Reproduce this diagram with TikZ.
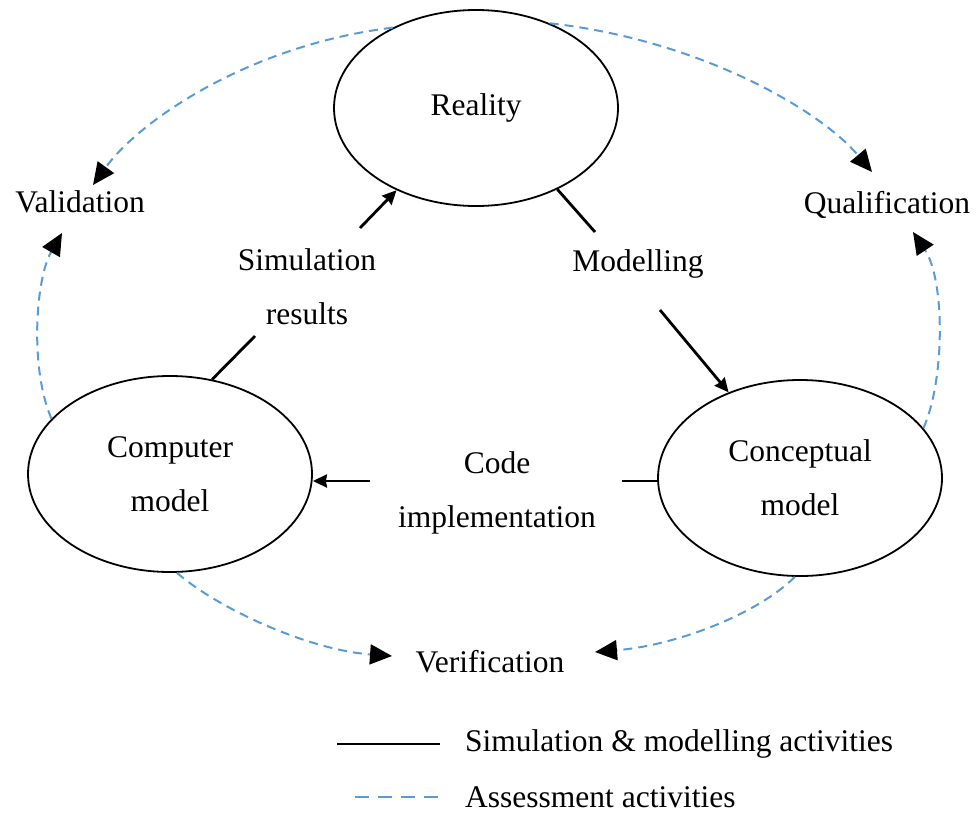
\documentclass[tikz,border=0pt]{standalone}
\usepackage{fontspec}
\setmainfont{Liberation Serif}
\usetikzlibrary{arrows.meta,shapes.geometric}
\definecolor{dblue}{HTML}{5B9BD5}
\begin{document}
\begin{tikzpicture}[x=1pt,y=-1pt,
  every node/.style={font=\fontsize{31.5}{54}\selectfont, inner sep=0pt},
  ell/.style={draw, ellipse, line width=1.8pt, minimum width=284pt, minimum height=196pt, align=center},
  lbl/.style={align=center},
  act/.style={line width=2.8pt},
  actarrow/.style={act, -{Stealth[length=14pt,width=13pt,inset=1pt]}},
  asm/.style={dblue, line width=2pt, dash pattern=on 9pt off 6pt},
  asmarrow/.style={asm, -{Triangle[length=22pt,width=20pt,color=black,fill=black]}}]
\useasboundingbox (0,0) rectangle (976,814);

% ellipses
\node[ell] (reality) at (476,108) {Reality};
\node[ell] (cm) at (170,474) {Computer\\model};
\node[ell] (concept) at (800,478) {Conceptual\\model};

% labels
\node[lbl] (valid) at (80,202) {Validation};
\node[lbl] (qual) at (887,205) {Qualification};
\node[lbl] (sim) at (307,287) {Simulation\\results};
\node[lbl] (model) at (638,264) {Modelling};
\node[lbl] (code) at (497,493) {Code\\implementation};
\node[lbl] (verif) at (490,662) {Verification};

% free ends
\coordinate (s1) at (255,336);
\coordinate (s2) at (360,228);
\coordinate (m1) at (595,232);
\coordinate (m2) at (660,310);
\coordinate (c1) at (622,481);
\coordinate (c2) at (370,481);
\coordinate (tv1) at (93,185);
\coordinate (tq1) at (872,172);
\coordinate (tv2) at (62,233);
\coordinate (tq2) at (913,232);
\coordinate (tr1) at (392,656);
\coordinate (tr2) at (595,652);

% simulation & modelling activities
\draw[act] (cm.66) -- (s1);
\draw[actarrow] (s2) -- (reality);
\draw[act] (reality.-45) -- (m1);
\draw[actarrow] (m2) -- (concept);
\draw[act] (c1) -- (c1 -| concept.west);
\draw[actarrow] (c2) -- (c2 -| cm.east);

% assessment activities
\draw[asmarrow] (reality.136) .. controls (250,45) and (140,120) .. (tv1);
\draw[asmarrow] (reality.49) .. controls (700,40) and (820,110) .. (tq1);
\draw[asmarrow] (cm.155) .. controls (30,370) and (35,280) .. (tv2);
\draw[asmarrow] (concept.22) .. controls (945,380) and (945,280) .. (tq2);
\draw[asmarrow] (cm.-86) .. controls (220,610) and (310,650) .. (tr1);
\draw[asmarrow] (concept.-93) .. controls (760,612) and (680,645) .. (tr2);

% legend
\coordinate (l1a) at (337,744);
\coordinate (l1b) at (440,744);
\coordinate (l2a) at (355,797);
\coordinate (l2b) at (440,797);
\draw[act] (l1a) -- (l1b);
\draw[asm, dash pattern=on 14pt off 9pt] (l2a) -- (l2b);
\node[anchor=west] (leg1) at (465,744) {Simulation \& modelling activities};
\node[anchor=west] (leg2) at (465,797) {Assessment activities};
\end{tikzpicture}
\end{document}
